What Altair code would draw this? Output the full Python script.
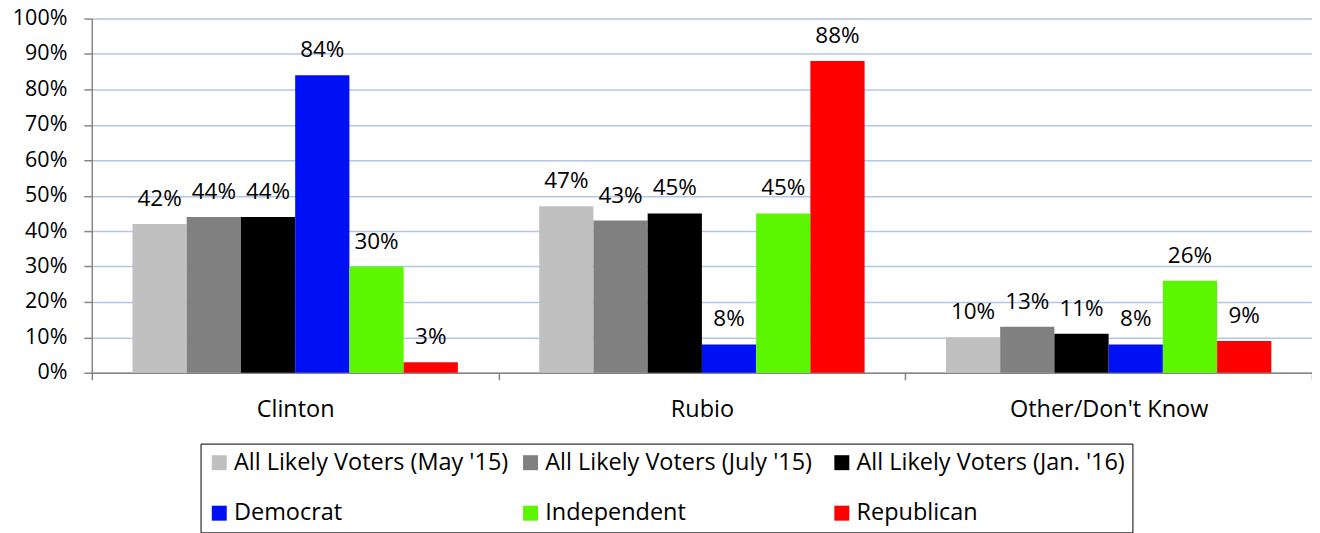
import altair as alt
import pandas as pd

groups = ["Clinton", "Rubio", "Other/Don't Know"]
series = [
    "All Likely Voters (May '15)",
    "All Likely Voters (July '15)",
    "All Likely Voters (Jan. '16)",
    "Democrat",
    "Independent",
    "Republican",
]
colors = ["#C0C0C0", "#808080", "#000000", "#0010F5", "#5CF700", "#FF0000"]
clinton = [0.42, 0.44, 0.44, 0.84, 0.30, 0.03]
rubio = [0.47, 0.43, 0.45, 0.08, 0.45, 0.88]
other = [0.10, 0.13, 0.11, 0.08, 0.26, 0.09]
y_ticks = [i / 10 for i in range(11)]

rows = []
for g, vals in zip(groups, [clinton, rubio, other]):
    for s, v in zip(series, vals):
        rows.append({"group": g, "series": s, "value": v})
df = pd.DataFrame(rows)

FONT = "Open Sans"
FS_AXIS = 21.5
FS_CAT = 23.5
FS_LAB = 22.5
FS_LEG = 23.5

x = alt.X(
    "group:N",
    sort=groups,
    title=None,
    scale=alt.Scale(paddingInner=0, paddingOuter=0),
    axis=alt.Axis(
        labelAngle=0,
        tickBand="extent",
        tickSize=7,
        tickColor="#868686",
        tickWidth=1.5,
        domainColor="#868686",
        domainWidth=1.5,
        labelFont=FONT,
        labelFontSize=FS_CAT,
        labelColor="#000000",
        labelPadding=18,
        labelLimit=500,
        grid=False,
    ),
)
xo = alt.XOffset(
    "series:N",
    sort=series,
    scale=alt.Scale(paddingInner=0, paddingOuter=0.75),
)
y = alt.Y(
    "value:Q",
    title=None,
    scale=alt.Scale(domain=[0, 1]),
    axis=alt.Axis(
        values=y_ticks,
        format=".0%",
        labelOverlap=False,
        tickSize=8,
        tickColor="#868686",
        tickWidth=1.5,
        domainColor="#868686",
        domainWidth=1.5,
        gridColor="#B4C6E7",
        gridWidth=1.5,
        labelFont=FONT,
        labelFontSize=FS_AXIS,
        labelColor="#000000",
        labelPadding=17,
    ),
)
color = alt.Color(
    "series:N",
    sort=series,
    scale=alt.Scale(domain=series, range=colors),
    legend=alt.Legend(
        title=None,
        orient="none",
        legendX=109,
        legendY=426,
        columns=3,
        direction="horizontal",
        gridAlign="all",
        symbolType="square",
        symbolSize=225,
        symbolStrokeWidth=0,
        labelFont=FONT,
        labelFontSize=FS_LEG,
        labelColor="#000000",
        labelLimit=500,
        labelOffset=3,
        columnPadding=10,
        rowPadding=26,
        padding=7,
        strokeColor="#000000",
        fillColor="#FFFFFF",
    ),
)

base = alt.Chart(df)
bars = base.mark_bar().encode(x=x, xOffset=xo, y=y, color=color)
labels = base.mark_text(
    font=FONT, fontSize=FS_LAB, color="#000000", baseline="middle", dy=-25
).encode(
    x=x,
    xOffset=xo,
    y=y,
    text=alt.Text("value:Q", format=".0%"),
)

chart = (
    alt.layer(bars, labels)
    .properties(
        width=1223,
        height=355,
        autosize=alt.AutoSizeParams(type="none"),
        padding={"left": 84, "top": 10, "right": 0, "bottom": 160},
    )
    .configure_view(stroke=None)
    .configure_legend(strokeWidth=1.5)
    .configure(background="#FFFFFF")
)

chart.save("out.html", embed_options={"renderer": "svg", "actions": False})
